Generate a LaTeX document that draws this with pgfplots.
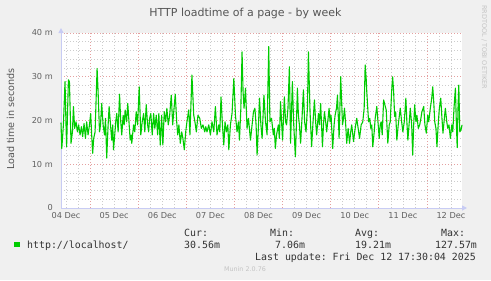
\documentclass[border=0pt]{standalone}
\usepackage{fontspec}
\setmainfont{DejaVu Sans}
\setmonofont{DejaVu Sans Mono}
\usepackage{pgfplots}
\pgfplotsset{compat=1.18}
\usetikzlibrary{arrows.meta}
\definecolor{bg}{HTML}{F0F0F0}
\definecolor{mungreen}{HTML}{00CC00}
\definecolor{majgrid}{HTML}{E4A0A0}
\definecolor{mingrid}{HTML}{CCCCCC}
\definecolor{axiscol}{HTML}{C8CCF4}
\definecolor{titlecol}{HTML}{555555}
\definecolor{tickcol}{HTML}{606060}
\definecolor{legcol}{HTML}{333333}
\definecolor{wmcol}{HTML}{C4C4C4}
\pgfplotstableread{
h v
0 19.5
0.4 13.6
1.2 19.0
2.0 28.9
2.5 19.0
2.8 14.0
3.7 29.3
4.2 28.9
5.0 14.8
5.7 17.4
6.2 23.2
6.8 18.2
7.5 19.7
8.2 17.4
8.8 19.0
9.5 16.7
10.2 18.6
10.8 16.3
11.5 19.3
12.2 15.9
12.8 19.7
13.5 16.7
14.2 19.0
14.8 21.6
15.3 16.7
15.8 12.5
16.3 15.9
17.0 17.4
18.0 31.9
18.5 26.6
19.2 17.4
19.7 19.0
20.3 23.9
21.0 19.0
21.7 16.7
22.2 20.5
22.8 11.4
23.5 19.0
24.0 23.2
24.7 19.0
25.3 15.5
25.8 19.0
26.2 13.3
26.8 16.7
27.3 19.7
27.8 21.6
28.5 17.4
29.2 26.0
29.8 19.7
30.3 16.7
31.0 21.2
31.5 19.0
32.0 22.4
32.7 19.7
33.3 23.9
34.0 19.0
34.5 15.5
35.0 16.7
35.3 14.8
36.2 19.0
36.8 17.4
37.5 22.0
38.2 19.0
39.0 27.7
39.8 16.7
40.5 19.7
41.2 21.6
41.8 17.4
42.5 23.6
43.2 19.0
43.7 17.4
44.2 20.5
44.8 21.6
45.5 16.7
46.2 21.6
46.8 18.2
47.5 21.2
48.2 16.7
48.8 21.6
49.5 14.4
50.2 21.2
50.8 14.4
51.5 22.0
52.2 19.7
52.8 22.8
53.5 19.0
54.2 21.2
55.0 25.8
55.7 19.0
56.3 22.4
57.0 26.0
57.7 19.7
58.2 16.7
58.8 19.0
59.5 14.8
60.2 17.4
60.8 15.9
61.5 13.3
62.2 17.4
62.8 19.7
63.7 22.4
64.3 16.7
65.3 30.4
66.2 21.2
66.8 19.7
67.5 17.4
68.3 21.2
69.2 20.5
70.0 18.2
70.8 19.0
71.7 17.4
72.2 18.6
72.8 17.4
73.7 19.0
74.5 16.7
75.3 19.7
76.2 17.4
77.0 23.2
77.8 16.7
78.7 19.0
79.2 17.4
79.8 25.4
80.5 19.0
81.2 14.4
81.8 19.7
82.5 17.4
83.2 19.0
83.7 13.3
84.5 19.0
85.3 21.6
86.2 29.6
87.0 21.2
87.8 17.4
88.5 19.7
89.0 15.5
89.7 22.8
90.3 35.7
90.8 26.6
91.3 22.8
92.0 27.4
92.8 18.2
93.5 20.5
94.5 15.5
95.3 19.0
96.0 22.0
96.7 22.8
97.3 19.0
97.8 12.1
98.5 19.0
99.0 25.1
99.7 19.0
100.3 15.9
101.2 25.8
102.0 19.7
102.8 16.7
103.0 22.8
103.6 36.9
104.2 19.7
105.0 20.5
105.9 16.7
106.4 18.2
106.9 13.6
107.5 16.7
108.4 19.0
108.9 15.9
109.5 24.3
110.0 19.7
110.5 15.5
111.4 25.4
112.0 19.7
112.5 19.0
113.2 22.8
113.9 32.3
114.5 14.8
115.4 28.9
116.0 19.7
116.9 11.7
117.4 19.0
117.9 27.4
118.4 21.2
118.9 19.0
119.5 14.8
120.2 20.5
120.9 27.0
121.5 19.7
122.2 17.4
122.9 22.8
123.4 35.7
124.2 22.0
125.0 14.0
125.7 19.7
126.4 24.7
127.0 19.7
127.5 16.7
128.4 21.6
128.9 19.0
129.5 23.9
130.4 14.0
130.9 19.0
131.4 22.0
132.0 19.7
132.5 17.4
133.2 20.5
133.7 22.8
134.2 19.7
134.7 21.2
135.5 13.6
136.2 19.0
136.7 21.2
137.4 22.8
137.9 25.8
138.7 15.9
139.5 30.0
140.4 19.0
140.9 20.5
141.4 22.8
142.0 19.0
142.5 14.8
143.2 18.2
143.9 14.8
144.5 17.4
145.0 19.0
145.9 15.2
146.7 18.2
147.5 20.5
148.2 18.2
148.9 15.9
149.7 19.0
150.5 19.7
151.2 22.8
151.7 32.7
152.2 29.6
152.5 26.6
153.4 19.7
154.0 20.5
154.5 18.2
155.0 19.0
155.5 14.0
156.2 17.4
156.7 20.5
157.5 23.2
158.2 19.0
158.7 15.9
159.2 19.0
159.7 19.7
160.2 16.7
160.9 24.7
161.5 23.6
162.2 22.4
163.0 14.8
163.7 19.0
164.2 19.7
164.9 26.6
165.4 30.0
165.9 26.6
166.4 20.9
166.9 22.0
167.5 15.5
168.2 19.0
169.2 22.8
169.9 19.7
170.5 17.4
171.2 19.7
172.0 25.1
172.5 19.7
173.0 15.5
173.7 19.7
174.2 22.8
174.9 19.0
175.4 12.1
175.9 19.0
176.4 23.6
177.0 19.7
177.5 21.2
178.2 18.2
178.9 19.0
179.5 20.5
180.0 22.0
180.9 23.2
181.5 19.0
182.2 17.1
182.9 21.2
183.4 19.7
184.2 22.8
184.9 25.1
185.4 27.7
185.9 24.3
186.4 19.7
187.0 18.2
187.5 14.0
188.2 19.7
188.7 22.8
189.4 25.1
190.0 20.5
190.5 17.1
191.2 20.5
191.7 22.8
192.4 19.7
192.9 18.2
193.5 19.0
194.2 15.9
194.9 19.0
195.4 17.4
196.0 22.8
196.7 27.4
197.2 19.0
197.6 13.8
198.0 22.8
198.4 28.1
198.9 17.4
199.5 17.8
200.0 19.0
}\loadtable
\begin{document}
\begin{tikzpicture}[x=1bp,y=1bp]
\fill[bg] (0,0) rectangle (491,280);
\begin{axis}[
  at={(61bp,72bp)}, anchor=south west,
  scale only axis, width=401bp, height=175bp,
  xmin=0, xmax=200, ymin=0, ymax=40,
  axis background/.style={fill=white},
  axis x line=bottom, axis y line=left,
  axis line style={draw=axiscol, line width=1bp},
  x axis line style={-{Triangle[length=5bp,width=5bp]}, shorten >=-5bp},
  y axis line style={-{Triangle[length=5bp,width=5bp]}, shorten >=-5bp},
  xtick={2.5,26.5,50.5,74.5,98.5,122.5,146.5,170.5,194.5},
  xticklabels={04 Dec,05 Dec,06 Dec,07 Dec,08 Dec,09 Dec,10 Dec,11 Dec,12 Dec},
  minor xtick={2.5,8.5,20.5,26.5,32.5,44.5,50.5,56.5,68.5,74.5,80.5,92.5,98.5,104.5,116.5,122.5,128.5,140.5,146.5,152.5,164.5,170.5,176.5,188.5,194.5},
  extra x ticks={14.5,38.5,62.5,86.5,110.5,134.5,158.5,182.5},
  extra x tick labels={},
  extra x tick style={grid=major},
  ytick={0,10,20,30,40},
  yticklabels={0,10 m,20 m,30 m,40 m},
  minor ytick={2,4,6,8,12,14,16,18,22,24,26,28,32,34,36,38},
  xmajorgrids=false, ymajorgrids=true, xminorgrids=true, yminorgrids=true,
  major grid style={draw=majgrid, dash pattern=on 1bp off 2bp, line width=0.7bp},
  minor grid style={draw=mingrid, dash pattern=on 1bp off 2bp, line width=0.6bp},
  major tick length=0pt, minor tick length=0pt,
  tick style={draw=none},
  ticklabel style={font=\fontsize{8.2bp}{9bp}\selectfont, text=tickcol},
  yticklabel style={inner sep=0pt, xshift=-8bp},
  xticklabel style={inner sep=0pt, yshift=-4bp, anchor=north},
  clip=false,
]
\addplot[mungreen, line width=1.1bp, line join=round] table[x=h, y=v] {\loadtable};
\end{axis}
\node[anchor=base, text=titlecol, font=\fontsize{11bp}{13bp}\selectfont] at (245.5,264) {HTTP loadtime of a page - by week};
\node[anchor=base, rotate=90, text=titlecol, font=\fontsize{9.6bp}{11bp}\selectfont, inner sep=0pt] at (14,161) {Load time in seconds};
\node[anchor=base west, rotate=-90, text=wmcol, font=\fontsize{6.5bp}{8bp}\selectfont, inner sep=0pt] at (482,275) {RRDTOOL / TOBI OETIKER};
\fill[mungreen] (14,33) rectangle (19.5,38.5);
\begin{scope}[every node/.style={anchor=base west, inner sep=0pt, text=legcol, font=\ttfamily\fontsize{9.9bp}{12bp}\selectfont}]
\node at (27,32) {http://localhost/};
\node at (184,44) {Cur:};
\node at (184,32) {30.56m};
\node at (270,44) {Min:};
\node at (275,32) {7.06m};
\node at (355,44) {Avg:};
\node at (355,32) {19.21m};
\node at (441,44) {Max:};
\node at (435,32) {127.57m};
\node at (255,20) {Last update: Fri Dec 12 17:30:04 2025};
\end{scope}
\node[anchor=base, inner sep=0pt, text=wmcol, font=\fontsize{6.4bp}{8bp}\selectfont] at (245,9) {Munin 2.0.76};
\pgfresetboundingbox
\path (0,0) rectangle (491,280);
\end{tikzpicture}
\end{document}
